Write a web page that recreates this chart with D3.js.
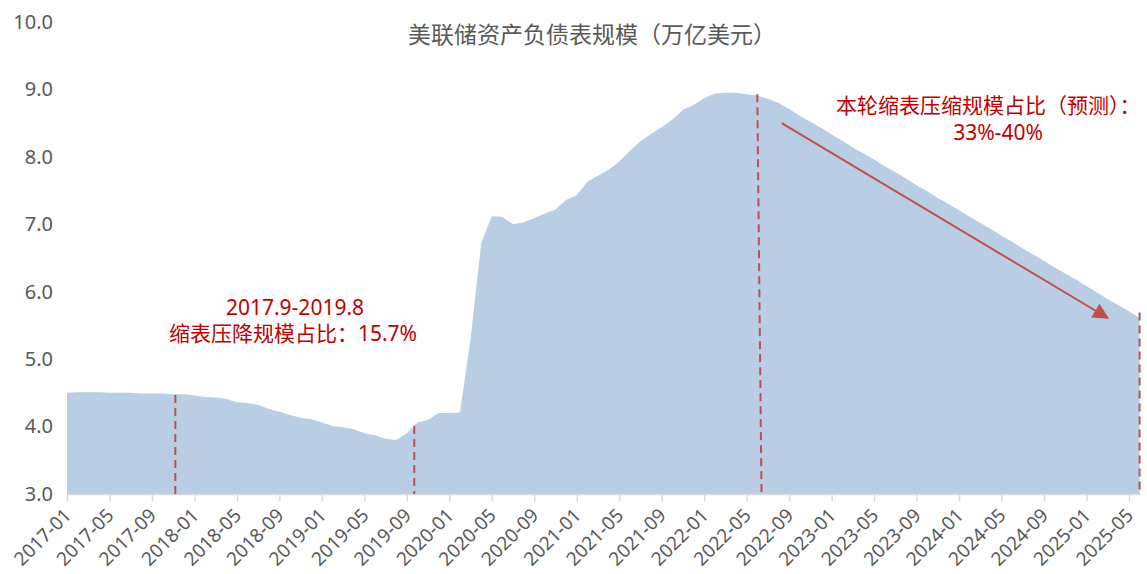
<!DOCTYPE html>
<html><head><meta charset="utf-8">
<script src="https://cdn.jsdelivr.net/npm/d3@7"></script>
<style>html,body{margin:0;padding:0;background:#fff;overflow:hidden}</style>
</head><body>
<svg id="c" width="1147" height="574"></svg>
<script>
const months = [
"2017-01","2017-02","2017-03","2017-04","2017-05","2017-06","2017-07","2017-08","2017-09","2017-10","2017-11","2017-12",
"2018-01","2018-02","2018-03","2018-04","2018-05","2018-06","2018-07","2018-08","2018-09","2018-10","2018-11","2018-12",
"2019-01","2019-02","2019-03","2019-04","2019-05","2019-06","2019-07","2019-08","2019-09","2019-10","2019-11","2019-12",
"2020-01","2020-02","2020-03","2020-04","2020-05","2020-06","2020-07","2020-08","2020-09","2020-10","2020-11","2020-12",
"2021-01","2021-02","2021-03","2021-04","2021-05","2021-06","2021-07","2021-08","2021-09","2021-10","2021-11","2021-12",
"2022-01","2022-02","2022-03","2022-04","2022-05","2022-06","2022-07","2022-08","2022-09","2022-10","2022-11","2022-12",
"2023-01","2023-02","2023-03","2023-04","2023-05","2023-06","2023-07","2023-08","2023-09","2023-10","2023-11","2023-12",
"2024-01","2024-02","2024-03","2024-04","2024-05","2024-06","2024-07","2024-08","2024-09","2024-10","2024-11","2024-12",
"2025-01","2025-02","2025-03","2025-04","2025-05","2025-06"];
const balance = [
4.50,4.51,4.51,4.51,4.50,4.50,4.50,4.49,4.49,4.49,4.48,4.48,
4.46,4.44,4.43,4.41,4.36,4.35,4.32,4.26,4.22,4.17,4.13,4.11,
4.06,4.01,3.99,3.96,3.90,3.87,3.82,3.80,3.90,4.06,4.10,4.20,
4.20,4.21,5.30,6.72,7.12,7.11,7.00,7.03,7.09,7.16,7.22,7.36,
7.43,7.63,7.72,7.81,7.93,8.09,8.23,8.34,8.44,8.55,8.70,8.77,
8.87,8.94,8.95,8.95,8.93,8.91,8.86,8.80,8.71,8.61,8.52,8.43,
8.33,8.24,8.14,8.05,7.96,7.86,7.77,7.68,7.58,7.49,7.39,7.30,
7.21,7.11,7.02,6.93,6.83,6.74,6.64,6.55,6.46,6.36,6.27,6.18,
6.08,5.99,5.89,5.80,5.71,5.61];
const xTicks = ["2017-01","2017-05","2017-09","2018-01","2018-05","2018-09","2019-01","2019-05","2019-09",
"2020-01","2020-05","2020-09","2021-01","2021-05","2021-09","2022-01","2022-05","2022-09","2023-01","2023-05",
"2023-09","2024-01","2024-05","2024-09","2025-01","2025-05"];
const yTicks = [3,4,5,6,7,8,9,10];
const title = "美联储资产负债表规模（万亿美元）";
// dashed markers: month index (fractional) at top, value at top, month index at bottom
const markerPos = [10.2, 32.7, 65.0, 101.0];
const markerTop = [4.47, 4.01, 8.93, 5.69];
const markerBottomPos = [10.2, 32.7, 65.4, 101.0];
const note1 = ["2017.9-2019.8", "缩表压降规模占比：15.7%"];
const note2 = ["本轮缩表压缩规模占比（预测）：", "33%-40%"];
// arrow start/end in data terms [month index, value]
const arrowFrom = [67.3, 8.50];
const arrowTo = [98.0, 5.61];

const svg = d3.select("#c");
const x = d3.scaleLinear().domain([0, months.length - 1]).range([67, 1139.6]);
const y = d3.scaleLinear().domain([3, 10]).range([494, 22]);
const data = months.map((m, i) => ({m, i, v: balance[i]}));

const area = d3.area().x(d => x(d.i)).y0(y(3)).y1(d => y(d.v));
svg.append("path").datum(data).attr("d", area).attr("fill", "#b9cde4");

const latin = "'Noto Sans','Open Sans',sans-serif";
const mixed = "'Noto Sans','Noto Sans CJK SC',sans-serif";

// x axis
const xa = d3.axisBottom(x).tickValues(xTicks.map(t => months.indexOf(t)))
  .tickFormat(i => months[i]).tickSize(7).tickSizeOuter(0);
const gx = svg.append("g").attr("transform", `translate(0,${y(3)+0.5})`).call(xa);
gx.select(".domain").attr("stroke", "#d9d9d9").attr("stroke-width", 1.5)
  .attr("d", `M67,0H1141`);
gx.selectAll(".tick line").attr("stroke", "#d9d9d9").attr("stroke-width", 1.5);
gx.selectAll(".tick text")
  .attr("font-family", latin).attr("font-size", 19).attr("fill", "#595959")
  .attr("text-anchor", "end").attr("y", 0).attr("dy", 0)
  .attr("transform", "translate(5,22) rotate(-45)");

// y axis
const ya = d3.axisLeft(y).tickValues(yTicks).tickFormat(d3.format(".1f")).tickSize(0);
const gy = svg.append("g").attr("transform", "translate(53,0)").call(ya);
gy.select(".domain").remove();
gy.selectAll(".tick text").attr("font-family", latin)
  .attr("font-size", 20).attr("fill", "#595959").attr("x", 0);

// title
svg.append("text").attr("x", 592).attr("y", 43).attr("text-anchor", "middle")
  .attr("font-family", "'Noto Sans CJK SC',sans-serif").attr("font-size", 23).attr("fill", "#595959").text(title);

// dashed markers
const red = "#c0504d";
markerPos.forEach((p, k) => {
  svg.append("line").attr("x1", x(p)).attr("y1", y(markerTop[k])).attr("x2", x(markerBottomPos[k])).attr("y2", y(3))
    .attr("stroke", red).attr("stroke-width", 2).attr("stroke-dasharray", "8,5");
});

// notes (one text element each, two lines)
const t1 = svg.append("text").attr("font-family", mixed).attr("font-size", 21).attr("fill", "#c00000")
  .attr("text-anchor", "middle");
t1.append("tspan").attr("x", 295).attr("y", 315).text(note1[0]);
t1.append("tspan").attr("x", 293).attr("y", 341).text(note1[1]);
const t2 = svg.append("text").attr("font-family", mixed).attr("font-size", 21).attr("fill", "#c00000");
t2.append("tspan").attr("x", 836).attr("y", 113).attr("text-anchor", "start").text(note2[0]);
t2.append("tspan").attr("x", 998).attr("y", 140).attr("text-anchor", "middle").text(note2[1]);

// arrow
const defs = svg.append("defs");
defs.append("marker").attr("id", "ah").attr("viewBox", "0 0 10 10").attr("refX", 9).attr("refY", 5)
  .attr("markerWidth", 20).attr("markerHeight", 16).attr("markerUnits", "userSpaceOnUse")
  .attr("orient", "auto").append("path").attr("d", "M0,0L10,5L0,10Z").attr("fill", red);
svg.append("line").attr("x1", x(arrowFrom[0])).attr("y1", y(arrowFrom[1]))
  .attr("x2", x(arrowTo[0])).attr("y2", y(arrowTo[1]))
  .attr("stroke", red).attr("stroke-width", 2).attr("marker-end", "url(#ah)");
</script>
</body></html>
